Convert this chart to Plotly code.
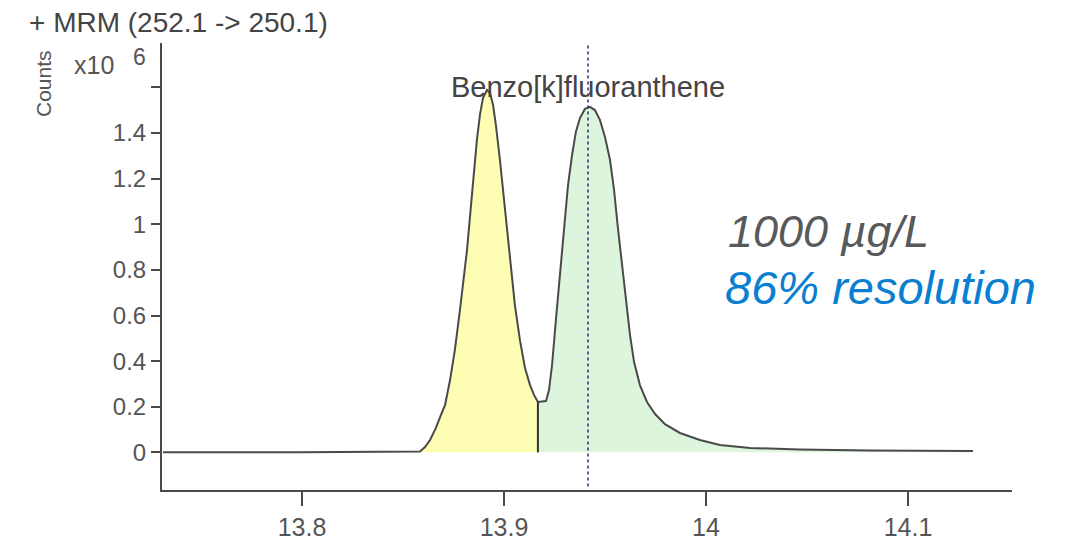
import plotly.graph_objects as go

# Chromatogram (retention time in min, counts in 1e6)
rt = [13.7312, 13.799, 13.8584, 13.8609, 13.8634, 13.8663, 13.8688, 13.8708, 13.8733,
      13.8757, 13.8782, 13.8802, 13.8817, 13.8837, 13.8851, 13.8866, 13.8881, 13.8896,
      13.8916, 13.8931, 13.8946, 13.8960, 13.8980, 13.9005, 13.9030, 13.9054, 13.9079,
      13.9104, 13.9129, 13.9149, 13.9168, 13.9208, 13.9223, 13.9238, 13.9257, 13.9277,
      13.9297, 13.9317, 13.9337, 13.9356, 13.9376, 13.9401, 13.9426, 13.9450, 13.9475,
      13.9500, 13.9525, 13.9545, 13.9564, 13.9584, 13.9604, 13.9624, 13.9644, 13.9673,
      13.9708, 13.9748, 13.9797, 13.9871, 13.9970, 14.0069, 14.0218, 14.0465, 14.0812,
      14.1322]
counts = [0.0, 0.0, 0.004, 0.023, 0.054, 0.107, 0.164, 0.207, 0.317,
          0.449, 0.624, 0.778, 0.887, 1.085, 1.238, 1.370, 1.480, 1.554,
          1.589, 1.576, 1.523, 1.435, 1.282, 1.063, 0.843, 0.646, 0.492,
          0.370, 0.295, 0.251, 0.221, 0.225, 0.273, 0.383, 0.580, 0.778,
          0.975, 1.172, 1.304, 1.405, 1.466, 1.506, 1.515, 1.501, 1.458,
          1.383, 1.282, 1.150, 0.984, 0.835, 0.668, 0.514, 0.396, 0.295,
          0.221, 0.168, 0.124, 0.085, 0.054, 0.032, 0.019, 0.013, 0.008,
          0.006]

peak1_start = 13.8584
valley_rt = 13.9168
peak2_end = 14.1322
compound_rt = 13.9416
compound_name = "Benzo[k]fluoranthene"
title_text = "+ MRM (252.1 -> 250.1)"
conc_text = "1000 µg/L"
res_text = "86% resolution"

x_ticks = [13.8, 13.9, 14.0, 14.1]
x_tick_text = ["13.8", "13.9", "14", "14.1"]
y_ticks = [0, 0.2, 0.4, 0.6, 0.8, 1.0, 1.2, 1.4, 1.6]
y_tick_text = ["0", "0.2", "0.4", "0.6", "0.8", "1", "1.2", "1.4", ""]

FONT = "Liberation Sans, Arial, sans-serif"
LINE = "#4a4a4a"

p1x = [x for x in rt if peak1_start <= x <= valley_rt]
p1y = [y for x, y in zip(rt, counts) if peak1_start <= x <= valley_rt]
p2x = [x for x in rt if valley_rt <= x <= peak2_end]
p2y = [y for x, y in zip(rt, counts) if valley_rt <= x <= peak2_end]
valley_y = counts[rt.index(valley_rt)]

fig = go.Figure()
fig.add_trace(go.Scatter(x=p1x, y=p1y, fill="tozeroy", fillcolor="#FDFDB4",
                         mode="lines", line=dict(width=0),
                         hoverinfo="skip", showlegend=False))
fig.add_trace(go.Scatter(x=p2x, y=p2y, fill="tozeroy", fillcolor="#DDF5DC",
                         mode="lines", line=dict(width=0),
                         hoverinfo="skip", showlegend=False))
fig.add_trace(go.Scatter(x=rt, y=counts, mode="lines",
                         line=dict(color=LINE, width=2),
                         showlegend=False))
fig.add_trace(go.Scatter(x=[valley_rt, valley_rt], y=[0, valley_y], mode="lines",
                         line=dict(color="#333", width=2), showlegend=False))

fig.add_shape(type="line", xref="x", yref="y", x0=compound_rt, x1=compound_rt,
              y0=-0.15, y1=1.81, line=dict(color="#2a3170", width=1.5, dash="dot"))

# page has an 8px body margin: paper coords are relative to the plot area (162..1012, 43..490)
fig.add_annotation(x=13.9415, y=1.6, xref="x", yref="y", text=compound_name,
                   showarrow=False, font=dict(family=FONT, size=29, color="#444"),
                   xanchor="center", yanchor="middle")
fig.add_annotation(x=(726 - 162) / 850, y=(490 - 232) / 447, xref="paper", yref="paper",
                   text="<i>" + conc_text + "</i>", showarrow=False,
                   font=dict(family=FONT, size=45, color="#58595B"),
                   xanchor="left", yanchor="middle")
fig.add_annotation(x=(723 - 162) / 850, y=(490 - 287) / 447, xref="paper", yref="paper",
                   text="<i>" + res_text + "</i>", showarrow=False,
                   font=dict(family=FONT, size=47, color="#0A7FD2"),
                   xanchor="left", yanchor="middle")
fig.add_annotation(x=(27 - 162) / 850, y=(490 - 23) / 447, xref="paper", yref="paper",
                   text=title_text, showarrow=False, bgcolor="white",
                   font=dict(family=FONT, size=28, color="#444"),
                   xanchor="left", yanchor="middle")
fig.add_annotation(x=(72 - 162) / 850, y=(490 - 65) / 447, xref="paper", yref="paper",
                   text="x10", showarrow=False, font=dict(family=FONT, size=25, color="#555"),
                   xanchor="left", yanchor="middle")
fig.add_annotation(x=(131 - 162) / 850, y=(490 - 57) / 447, xref="paper", yref="paper",
                   text="6", showarrow=False, font=dict(family=FONT, size=23, color="#555"),
                   xanchor="left", yanchor="middle")
fig.add_annotation(x=(43 - 162) / 850, y=(490 - 83) / 447, xref="paper", yref="paper",
                   text="Counts", textangle=-90, showarrow=False,
                   font=dict(family=FONT, size=21, color="#555"),
                   xanchor="center", yanchor="middle")

fig.update_layout(
    width=1065, height=532,
    margin=dict(l=154, r=61, t=35, b=50, autoexpand=False),
    paper_bgcolor="white", plot_bgcolor="white",
    xaxis=dict(range=[13.7307, 14.1515], tickvals=x_ticks, ticktext=x_tick_text,
               showgrid=False, zeroline=False, showline=True, linecolor=LINE, linewidth=2,
               ticks="outside", ticklen=14, tickwidth=2, tickcolor=LINE,
               tickfont=dict(family=FONT, size=25, color="#555")),
    yaxis=dict(range=[-0.165, 1.795], tickvals=y_ticks, ticktext=y_tick_text,
               showgrid=False, zeroline=False, showline=True, linecolor=LINE, linewidth=2,
               ticks="outside", ticklen=9, tickwidth=2, tickcolor=LINE,
               tickfont=dict(family=FONT, size=24, color="#555")),
)

fig.write_html("out.html")
